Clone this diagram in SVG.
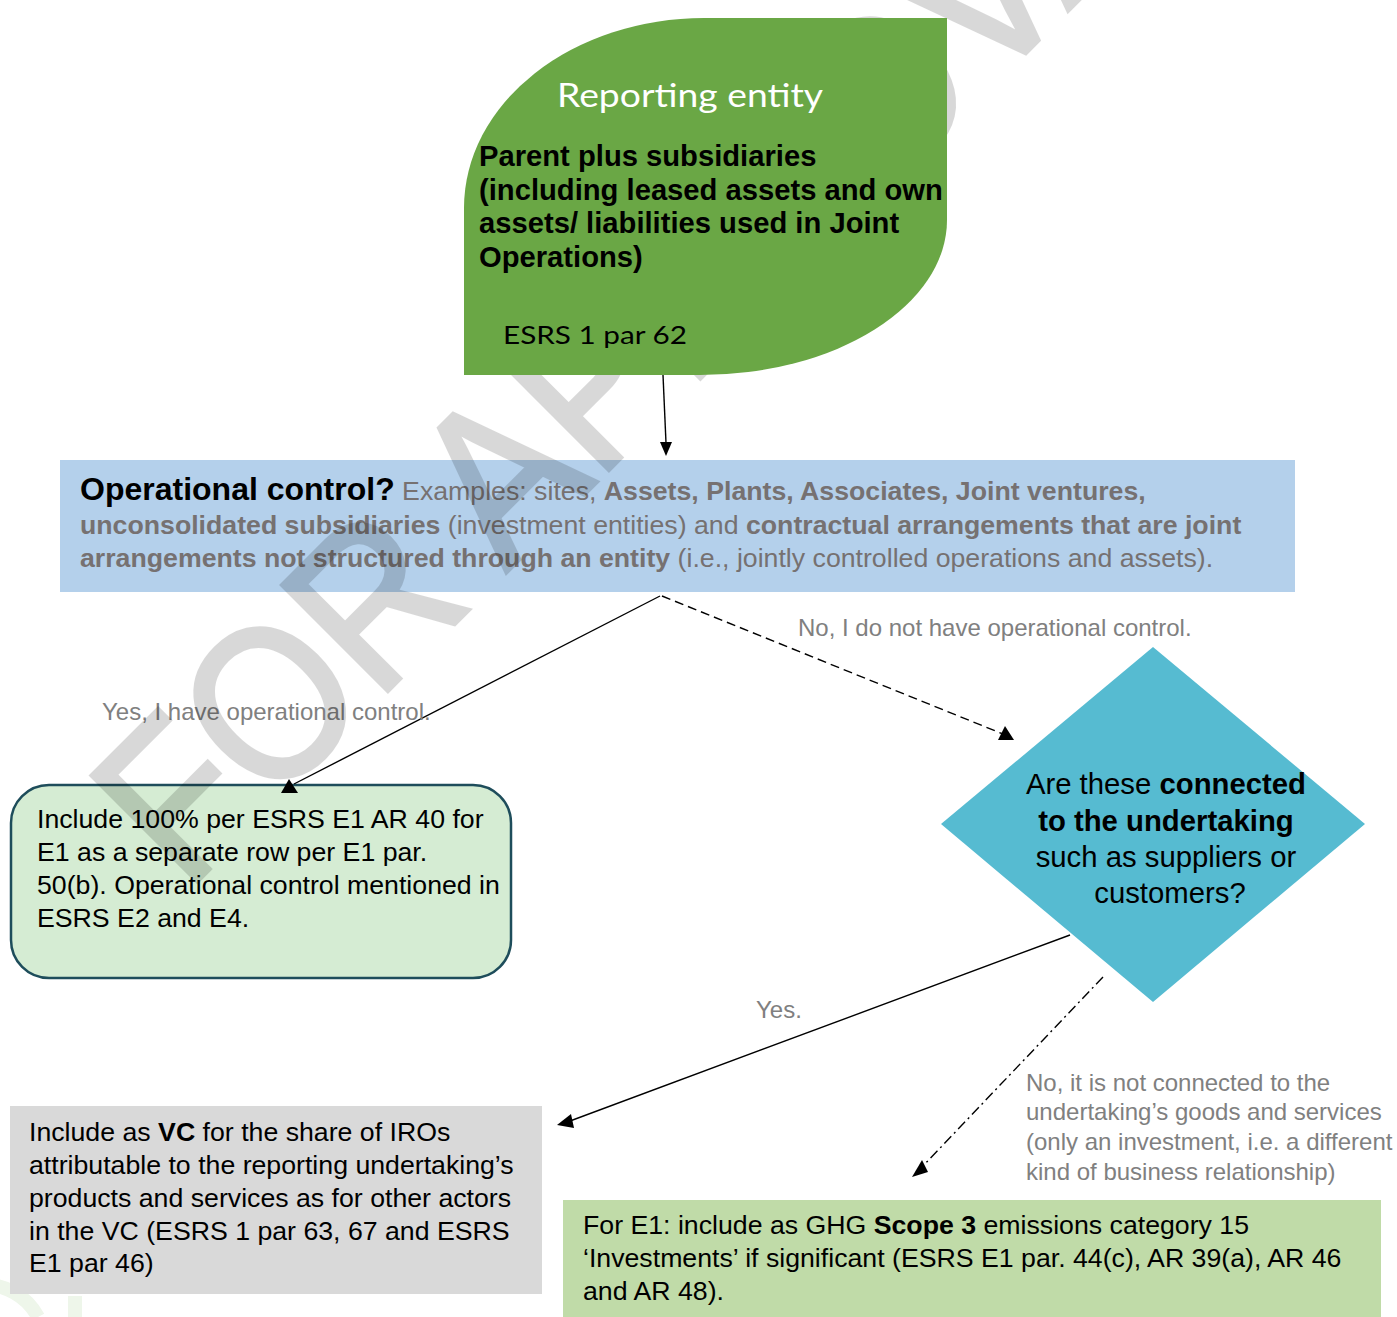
<svg xmlns="http://www.w3.org/2000/svg" width="1397" height="1317" viewBox="0 0 1397 1317">
  <style>
    .a { font-family: "Liberation Sans", Arial, sans-serif; }
    .g { font-family: "Lato", "Liberation Sans", sans-serif; }
    .body { font-size: 26.7px; fill: #000; }
    .lbl { font-size: 24px; fill: #808080; }
    .b { font-weight: bold; }
    .ln { stroke: #000; stroke-width: 1.4; fill: none; }
  </style>
  <rect width="1397" height="1317" fill="#fff"/>

  <!-- faint background logo fragment -->
  <g id="bg-logo" fill="none" stroke="#eef6ea">
    <path d="M-20,1285 A60,60 0 0 1 38,1317" stroke-width="14"/>
    <rect x="68" y="1296" width="14" height="21" fill="#eef6ea" stroke="none"/>
  </g>

  <g id="node-operational-control">
    <rect x="60" y="460" width="1235" height="132" fill="#b4d0eb"/>
    <text class="a" font-size="26.7" fill="#767171">
      <tspan x="80" y="500"><tspan class="b" font-size="32" fill="#000">Operational control?</tspan> Examples: sites, <tspan class="b">Assets, Plants, Associates, Joint ventures,</tspan></tspan>
      <tspan x="80" y="534"><tspan class="b">unconsolidated subsidiaries</tspan> (investment entities) and <tspan class="b">contractual arrangements that are joint</tspan></tspan>
      <tspan x="80" y="567"><tspan class="b">arrangements not structured through an entity</tspan> (i.e., jointly controlled operations and assets).</tspan>
    </text>
  </g>

  <g id="node-include-100">
    <rect x="11" y="785" width="500" height="193" rx="38" ry="38" fill="#d5ecd3" stroke="#1e4d5b" stroke-width="2.5"/>
    <text class="a body">
      <tspan x="37" y="828">Include 100% per ESRS E1 AR 40 for</tspan>
      <tspan x="37" y="861">E1 as a separate row per E1 par.</tspan>
      <tspan x="37" y="894">50(b). Operational control mentioned in</tspan>
      <tspan x="37" y="927">ESRS E2 and E4.</tspan>
    </text>
  </g>

  <g id="node-connected">
    <polygon points="1153,647 1365,824 1153,1002 941,824" fill="#56bbd1"/>
    <text class="a" font-size="29.3" text-anchor="middle" fill="#000">
      <tspan x="1170" y="794">Are these <tspan class="b">connected</tspan></tspan>
      <tspan x="1170" y="831" class="b">to the undertaking</tspan>
      <tspan x="1170" y="867">such as suppliers or</tspan>
      <tspan x="1170" y="903">customers?</tspan>
    </text>
  </g>

  <g id="node-include-vc">
    <rect x="10" y="1106" width="532" height="188" fill="#d9d9d9"/>
    <text class="a body">
      <tspan x="29" y="1141">Include as <tspan class="b">VC</tspan> for the share of IROs</tspan>
      <tspan x="29" y="1174">attributable to the reporting undertaking’s</tspan>
      <tspan x="29" y="1207">products and services as for other actors</tspan>
      <tspan x="29" y="1240">in the VC (ESRS 1 par 63, 67 and ESRS</tspan>
      <tspan x="29" y="1272">E1 par 46)</tspan>
    </text>
  </g>

  <g id="node-scope3">
    <rect x="563" y="1200" width="818" height="117" fill="#c0dba8"/>
    <text class="a body">
      <tspan x="583" y="1234">For E1: include as GHG <tspan class="b">Scope 3</tspan> emissions category 15</tspan>
      <tspan x="583" y="1267">‘Investments’ if significant (ESRS E1 par. 44(c), AR 39(a), AR 46</tspan>
      <tspan x="583" y="1300">and AR 48).</tspan>
    </text>
  </g>

  <g id="connectors">
    <line class="ln" x1="663" y1="375" x2="666" y2="443"/>
    <polygon points="660,442 672,442 666,456" fill="#000"/>

    <line class="ln" x1="660" y1="596" x2="294" y2="784"/>
    <polygon points="289,779 281,793 298,793" fill="#000"/>

    <line class="ln" x1="662" y1="596" x2="1003" y2="734" stroke-dasharray="9 5"/>
    <polygon points="998,740 1014,740 1005,726" fill="#000"/>

    <line class="ln" x1="1070" y1="935" x2="570" y2="1121"/>
    <polygon points="557,1125 574,1128 571,1114" fill="#000"/>

    <line class="ln" x1="1103" y1="977" x2="922" y2="1167" stroke-dasharray="10 4 2 4"/>
    <polygon points="912,1177 928,1172 922,1160" fill="#000"/>

    <text class="a lbl" x="798" y="636">No, I do not have operational control.</text>
    <text class="a lbl" x="102" y="720">Yes, I have operational control.</text>
    <text class="a lbl" x="756" y="1018">Yes.</text>
    <text class="a lbl">
      <tspan x="1026" y="1091">No, it is not connected to the</tspan>
      <tspan x="1026" y="1120">undertaking’s goods and services</tspan>
      <tspan x="1026" y="1150">(only an investment, i.e. a different</tspan>
      <tspan x="1026" y="1180">kind of business relationship)</tspan>
    </text>
  </g>

  <g id="watermark" opacity="0.15">
    <text class="a" font-size="218" fill="#000" stroke="#000" stroke-width="4" transform="translate(186,893) rotate(-45) scale(0.89,1)">FOR APPROVAL</text>
  </g>

  <g id="node-reporting-entity">
    <path d="M464,375 L464,208 A240,190 0 0 1 704,18 L947,18 L947,220 A247,155 0 0 1 700,375 Z" fill="#6aa745"/>
    <text class="g" x="557" y="107" font-size="33" fill="#fff" textLength="266" lengthAdjust="spacingAndGlyphs">Reporting entity</text>
    <text class="a b" font-size="29.2" fill="#000">
      <tspan x="479" y="166">Parent plus subsidiaries</tspan>
      <tspan x="479" y="200">(including leased assets and own</tspan>
      <tspan x="479" y="233">assets/ liabilities used in Joint</tspan>
      <tspan x="479" y="267">Operations)</tspan>
    </text>
    <text class="g" x="503" y="344" font-size="25" fill="#000" textLength="184" lengthAdjust="spacingAndGlyphs">ESRS 1 par 62</text>
  </g>
</svg>
